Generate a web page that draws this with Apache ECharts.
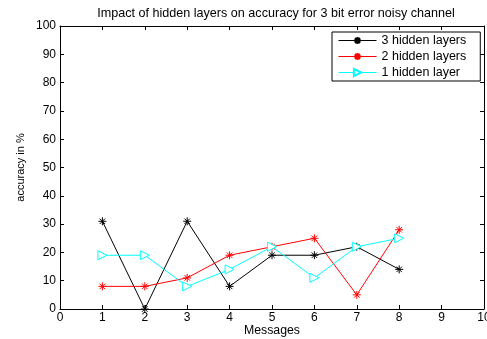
<!DOCTYPE html>
<html>
<head>
<meta charset="utf-8">
<script src="https://cdn.jsdelivr.net/npm/echarts@6/dist/echarts.min.js"></script>
<style>
  html, body { margin: 0; padding: 0; background: #fff; }
  #chart { width: 487px; height: 339px; }
</style>
</head>
<body>
<div id="chart"></div>
<script>
const messages = [1, 2, 3, 4, 5, 6, 7, 8];
const hidden3 = [31, 0, 31, 8, 19, 19, 22, 14];
const hidden2 = [8, 8, 11, 19, 22, 25, 5, 28];
const hidden1 = [19, 19, 8, 14, 22, 11, 22, 25];

const star = "path://M5,0 L5,10 M0,5 L10,5 M1.6,1.6 L8.4,8.4 M8.4,1.6 L1.6,8.4";
const triRight = "path://M0,0 L10,5 L0,10 Z";
const font = "Liberation Sans";

const pair = (ys) => messages.map((m, i) => [m, ys[i]]);

const chart = echarts.init(document.getElementById("chart"));

const axisCommon = {
  type: "value",
  axisLine: { show: true, onZero: false, lineStyle: { color: "#000", width: 1 } },
  axisTick: { show: true, inside: true, length: 4, lineStyle: { color: "#000" } },
  splitLine: { show: false },
};

chart.setOption({
  animation: false,
  title: {
    text: "Impact of hidden layers on accuracy for 3 bit error noisy channel",
    left: 271,
    textAlign: "center",
    top: 2,
    textStyle: { fontFamily: font, fontSize: 12.6, fontWeight: "normal", color: "#000" },
  },
  grid: { left: 60, right: 3, top: 26, bottom: 30, outerBoundsMode: "none", containLabel: false },
  legend: {
    orient: "vertical",
    left: 332,
    top: 32,
    padding: [2, 14, 2, 6],
    itemGap: 3,
    itemWidth: 38,
    itemHeight: 9,
    borderColor: "#000",
    borderWidth: 1,
    backgroundColor: "#fff",
    lineStyle: { width: 1 },
    textStyle: { fontFamily: font, fontSize: 12.5, color: "#000" },
    data: ["3 hidden layers", "2 hidden layers", "1 hidden layer"],
  },
  xAxis: [
    {
      ...axisCommon,
      min: 0, max: 10, interval: 1,
      name: "Messages",
      nameLocation: "middle",
      nameGap: 16,
      nameMoveOverlap: false,
      nameTextStyle: { fontFamily: font, fontSize: 12.3, color: "#000" },
      axisLabel: { fontFamily: font, fontSize: 12, color: "#000", margin: 3 },
    },
    {
      ...axisCommon,
      position: "top",
      min: 0, max: 10, interval: 1,
      axisLabel: { show: false },
    },
  ],
  yAxis: [
    {
      ...axisCommon,
      min: 0, max: 100, interval: 10,
      name: "accuracy in %",
      nameLocation: "middle",
      nameGap: 34,
      nameMoveOverlap: false,
      nameTextStyle: { fontFamily: font, fontSize: 11, color: "#000" },
      axisLabel: { fontFamily: font, fontSize: 12, color: "#000", margin: 4 },
    },
    {
      ...axisCommon,
      position: "right",
      min: 0, max: 100, interval: 10,
      axisLabel: { show: false },
    },
  ],
  series: [
    {
      name: "3 hidden layers",
      type: "line",
      data: pair(hidden3),
      symbol: star,
      symbolSize: 8,
      lineStyle: { color: "#000", width: 1 },
      itemStyle: { color: "#000", borderColor: "#000", borderWidth: 1 },
    },
    {
      name: "2 hidden layers",
      type: "line",
      data: pair(hidden2),
      symbol: star,
      symbolSize: 8,
      lineStyle: { color: "#ff0000", width: 1 },
      itemStyle: { color: "#ff0000", borderColor: "#ff0000", borderWidth: 1 },
    },
    {
      name: "1 hidden layer",
      type: "line",
      data: pair(hidden1),
      symbol: triRight,
      symbolSize: 9,
      lineStyle: { color: "#00ffff", width: 1 },
      itemStyle: { color: "#fff", borderColor: "#00ffff", borderWidth: 1 },
    },
  ],
});
</script>
</body>
</html>
